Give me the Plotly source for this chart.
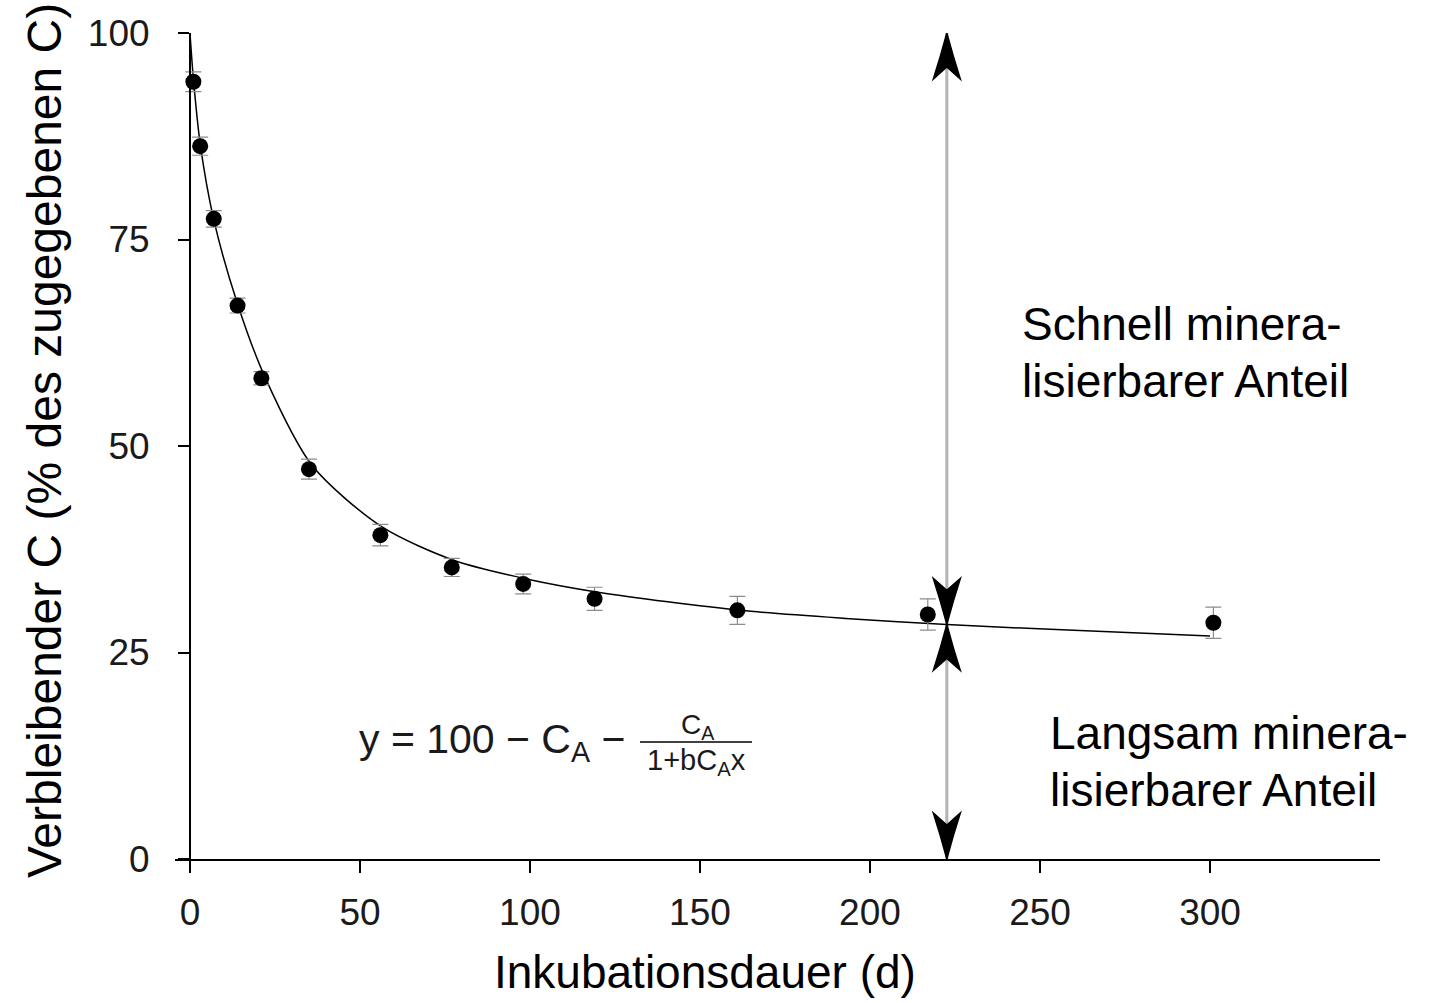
import plotly.graph_objects as go

# ---------------- data ----------------
days = [1, 3, 7, 14, 21, 35, 56, 77, 98, 119, 161, 217, 301]
remaining_c = [94.1, 86.3, 77.5, 67.0, 58.2, 47.2, 39.2, 35.3, 33.3, 31.5, 30.1, 29.6, 28.6]
remaining_err = [1.2, 1.1, 1.0, 0.9, 0.8, 1.2, 1.3, 1.1, 1.2, 1.4, 1.7, 1.9, 1.9]

fit_x = [0, 1, 3, 7, 14, 22, 36, 56.5, 78, 99, 120, 162, 194, 222.6, 253, 300]
fit_y = [100, 94.5, 86.6, 77.4, 67.2, 58.4, 47.6, 40.2, 36.1, 33.9, 32.3, 30.1, 29.1, 28.4, 27.8, 27.0]

x_ticks = [0, 50, 100, 150, 200, 250, 300]
y_ticks = [0, 25, 50, 75, 100]

arrow_x = 222.6          # position of the double arrows
arrow_mid = 28.4         # where the fit curve meets the arrow
arrow_bottom, arrow_top = 0, 100

x_title = "Inkubationsdauer (d)"
y_title = "Verbleibender C (% des zugegebenen C)"
fast_lines = ["Schnell minera-", "lisierbarer Anteil"]
slow_lines = ["Langsam minera-", "lisierbarer Anteil"]

# ---------------- layout geometry ----------------
W, H = 1433, 1003
ML, MR, MT, MB = 175, 53, 33, 144
XR = [-4.4, 350]
YR = [0, 100]
PXX = (W - ML - MR) / (XR[1] - XR[0])
PXY = (H - MT - MB) / (YR[1] - YR[0])

FONT = "Liberation Sans, Arial, Helvetica, sans-serif"


def px2x(px):
    return XR[0] + (px - ML) / PXX


def py2y(py):
    return YR[1] - (py - MT) / PXY


fig = go.Figure()

# fitted curve
fig.add_trace(go.Scatter(
    x=fit_x, y=fit_y, mode="lines",
    line=dict(color="black", width=1.5, shape="spline", smoothing=0.8),
    hoverinfo="skip", showlegend=False))

# measured points with error bars
fig.add_trace(go.Scatter(
    x=days, y=remaining_c, mode="markers",
    marker=dict(color="black", size=16),
    error_y=dict(type="data", array=remaining_err, color="#8c8c8c",
                 thickness=1.2, width=8),
    showlegend=False))

shapes = []
# grey vertical line of the arrow
shapes.append(dict(type="line", xref="x", yref="y",
                   x0=arrow_x, x1=arrow_x, y0=arrow_bottom, y1=arrow_top,
                   line=dict(color="#b3b3b3", width=3), layer="below"))


def arrowhead(xc, ytip, direction):
    hw = 13.5 / PXX
    ln = 46 / PXY
    nd = 34 / PXY
    d = direction
    tip = (xc, ytip)
    cr = (xc + hw, ytip - d * ln)
    cl = (xc - hw, ytip - d * ln)
    notch = (xc, ytip - d * nd)
    qr = (xc + hw * 0.47, ytip - d * ln * 0.52)
    ql = (xc - hw * 0.47, ytip - d * ln * 0.52)
    path = (f"M {tip[0]},{tip[1]} Q {qr[0]},{qr[1]} {cr[0]},{cr[1]} "
            f"L {notch[0]},{notch[1]} L {cl[0]},{cl[1]} "
            f"Q {ql[0]},{ql[1]} {tip[0]},{tip[1]} Z")
    return dict(type="path", xref="x", yref="y", path=path,
                fillcolor="black", line=dict(color="black", width=1.5))


shapes.append(arrowhead(arrow_x, arrow_top, 1))
shapes.append(arrowhead(arrow_x, arrow_mid, -1))
shapes.append(arrowhead(arrow_x, arrow_mid, 1))
shapes.append(arrowhead(arrow_x, arrow_bottom, -1))

# fraction bar of the equation
shapes.append(dict(type="line", xref="x", yref="y",
                   x0=px2x(640), x1=px2x(752), y0=py2y(742), y1=py2y(742),
                   line=dict(color="black", width=1.5)))

annotations = []
# y-axis title
annotations.append(dict(text=y_title, xref="paper", yref="paper",
                        x=(44 - ML) / (W - ML - MR), y=(H - MB - 441) / (H - MT - MB),
                        xanchor="center", yanchor="middle", textangle=-90,
                        showarrow=False, font=dict(family=FONT, size=48, color="black")))
# x-axis title
annotations.append(dict(text=x_title, xref="paper", yref="paper",
                        x=(705 - ML) / (W - ML - MR), y=(H - MB - 972) / (H - MT - MB),
                        xanchor="center", yanchor="middle",
                        showarrow=False, font=dict(family=FONT, size=46, color="black")))

for i, t in enumerate(fast_lines):
    annotations.append(dict(text=t, xref="x", yref="y", x=px2x(1020),
                            y=py2y(324 + 57 * i), xanchor="left", yanchor="middle",
                            showarrow=False, font=dict(family=FONT, size=46, color="black")))
for i, t in enumerate(slow_lines):
    annotations.append(dict(text=t, xref="x", yref="y", x=px2x(1048),
                            y=py2y(733 + 57 * i), xanchor="left", yanchor="middle",
                            showarrow=False, font=dict(family=FONT, size=46, color="black")))

# equation
annotations.append(dict(text="y = 100 \u2212 C<sub>A</sub> \u2212", xref="x", yref="y",
                        x=px2x(357), y=py2y(742), xanchor="left", yanchor="middle",
                        showarrow=False, font=dict(family=FONT, size=41, color="#1a1a1a")))
annotations.append(dict(text="C<sub>A</sub>", xref="x", yref="y",
                        x=px2x(698), y=py2y(726), xanchor="center", yanchor="middle",
                        showarrow=False, font=dict(family=FONT, size=28, color="#1a1a1a")))
annotations.append(dict(text="1+bC<sub>A</sub>x", xref="x", yref="y",
                        x=px2x(696), y=py2y(762), xanchor="center", yanchor="middle",
                        showarrow=False, font=dict(family=FONT, size=29, color="#1a1a1a")))

fig.update_layout(
    width=W, height=H,
    margin=dict(l=ML, r=MR, t=MT, b=MB, pad=0),
    paper_bgcolor="white", plot_bgcolor="white",
    showlegend=False,
    shapes=shapes, annotations=annotations,
    xaxis=dict(range=XR, tickvals=x_ticks, ticktext=[str(v) for v in x_ticks],
               showline=True, linecolor="black", linewidth=2,
               ticks="outside", ticklen=12, tickwidth=2, tickcolor="black",
               showgrid=False, zeroline=False,
               tickfont=dict(family=FONT, size=37, color="#1a1a1a"),
               ticklabelstandoff=8),
    yaxis=dict(range=YR, tickvals=y_ticks, ticktext=[str(v) for v in y_ticks],
               anchor="free", position=(190 - ML) / (W - ML - MR),
               showline=True, linecolor="black", linewidth=2,
               ticks="outside", ticklen=11, tickwidth=2, tickcolor="black",
               showgrid=False, zeroline=False,
               tickfont=dict(family=FONT, size=37, color="#1a1a1a"),
               ticklabelstandoff=21),
)

fig.write_html("out.html")
